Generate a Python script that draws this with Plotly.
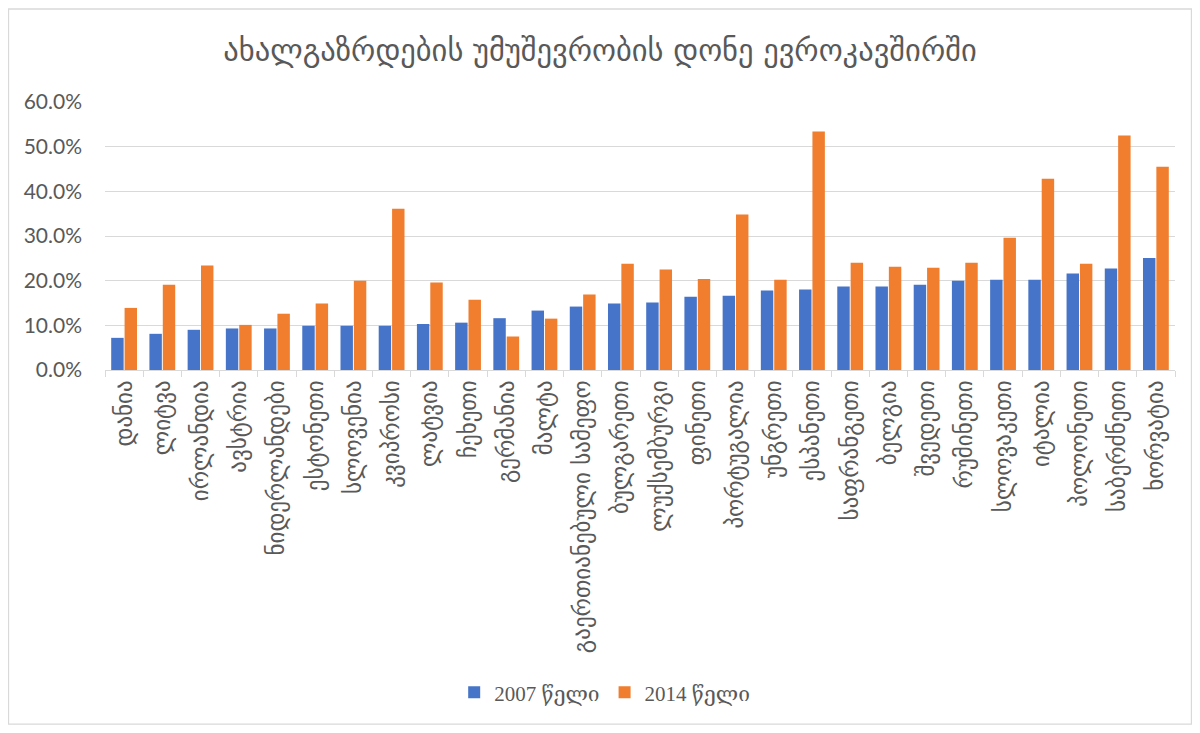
import plotly.graph_objects as go

countries = ["დანია", "ლიტვა", "ირლანდია", "ავსტრია", "ნიდერლანდები", "ესტონეთი",
             "სლოვენია", "კვიპროსი", "ლატვია", "ჩეხეთი", "გერმანია", "მალტა",
             "გაერთიანებული სამეფო", "ბულგარეთი", "ლუქსემბურგი", "ფინეთი",
             "პორტუგალია", "უნგრეთი", "ესპანეთი", "საფრანგეთი", "ბელგია",
             "შვედეთი", "რუმინეთი", "სლოვაკეთი", "იტალია", "პოლონეთი",
             "საბერძნეთი", "ხორვატია"]

y2007 = [7.2, 8.1, 9.0, 9.3, 9.3, 9.9, 9.9, 9.9, 10.3, 10.6, 11.6, 13.3,
         14.2, 14.9, 15.1, 16.4, 16.6, 17.8, 18.0, 18.7, 18.7, 19.1, 20.0,
         20.2, 20.2, 21.6, 22.7, 25.1]
y2014 = [13.9, 19.1, 23.4, 10.1, 12.6, 14.9, 20.0, 36.1, 19.6, 15.7, 7.5, 11.5,
         16.9, 23.8, 22.5, 20.4, 34.8, 20.2, 53.4, 24.0, 23.1, 22.9, 24.0,
         29.6, 42.8, 23.8, 52.5, 45.5]

series_names = ["2007 წელი", "2014 წელი"]
title_text = "ახალგაზრდების უმუშევრობის დონე ევროკავშირში"

fig = go.Figure()
fig.add_trace(go.Bar(x=countries, y=y2007, name=series_names[0],
                     marker=dict(color="#4674C8", line=dict(width=0))))
fig.add_trace(go.Bar(x=countries, y=y2014, name=series_names[1],
                     marker=dict(color="#F07E2E", line=dict(width=0))))

grey = "#595959"
fig.update_layout(
    width=1184, height=717,
    margin=dict(l=97, r=17, t=94, b=355),
    paper_bgcolor="white", plot_bgcolor="white",
    barmode="group", bargap=0.3, bargroupgap=0.07,
    title=dict(text=title_text, x=0.5, xanchor="center", xref="container",
               y=1 - 42 / 717, yanchor="middle",
               font=dict(family="DejaVu Sans", size=30.5, color=grey)),
    legend=dict(orientation="h", x=0.467, xanchor="center", y=-1.204, yanchor="middle",
                font=dict(family="Liberation Serif, DejaVu Serif", size=21, color=grey),
                itemwidth=30, tracegroupgap=0),
    showlegend=True,
    font=dict(family="DejaVu Sans", color=grey),
)
fig.update_yaxes(range=[0, 60], dtick=10, tickformat=".1f", ticksuffix="%",
                 showgrid=True, gridcolor="#D9D9D9", gridwidth=1.3,
                 zeroline=False, showline=False,
                 tickfont=dict(family="Lato", size=21, color=grey), ticks="",
                 ticklabelstandoff=22)
fig.update_xaxes(tickangle=-90, showline=True, linecolor="#D9D9D9", linewidth=1.3,
                 ticks="outside", tickson="boundaries", ticklen=6, tickcolor="#D9D9D9",
                 tickfont=dict(family="DejaVu Sans", size=23, color=grey))

# outer chart border
fig.add_shape(type="rect", xref="paper", yref="paper",
              x0=-0.0902, x1=1.0154, y0=-1.321, y1=1.347,
              line=dict(color="#D9D9D9", width=1.3), layer="below")

fig.write_html("out.html")
